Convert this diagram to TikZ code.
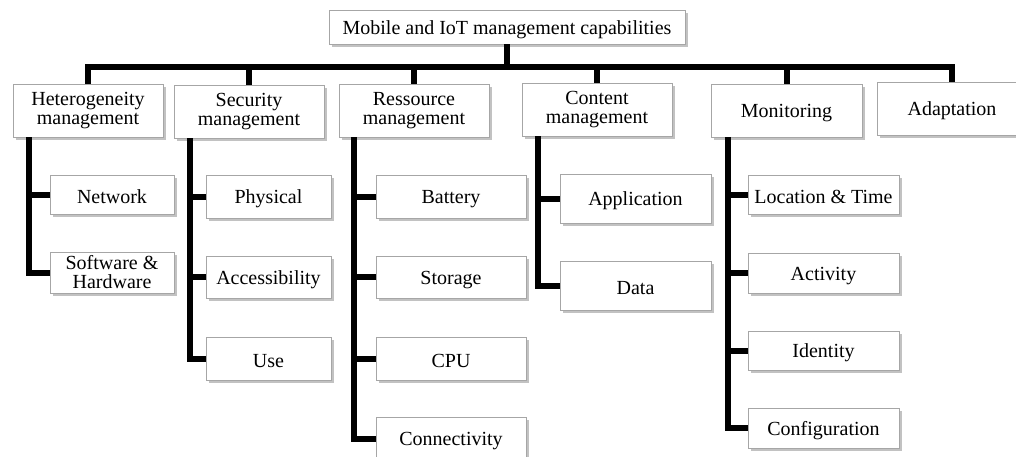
\documentclass[tikz,border=0pt]{standalone}
\usepackage{fontspec}
\setmainfont{Liberation Serif}
\usetikzlibrary{shadows}
\begin{document}
\begin{tikzpicture}[x=1pt,y=-1pt,
  box/.style={draw=black!35, line width=0.8pt, fill=white, inner sep=0pt, align=center,
    font=\fontsize{20}{19}\selectfont, text=black,
    execute at begin node={\rule{0pt}{18.5pt}},
    drop shadow={shadow xshift=2.5pt, shadow yshift=-2.5pt, fill=black!40, opacity=0.6}},
  conn/.style={line width=6pt, draw=black, line join=miter},
  bar/.style={line width=6pt, draw=black, line cap=rect}]
\useasboundingbox (0,0) rectangle (1016,456);
\clip (0,0) rectangle (1016,456);
% root
\node[box, minimum width=356pt, minimum height=34pt] (root) at (507,27) {Mobile and IoT management capabilities};
% level 1
\node[box, minimum width=150pt, minimum height=53pt] (het) at (88,110.5) {Heterogeneity\\management};
\node[box, minimum width=150pt, minimum height=53pt] (sec) at (249,111.5) {Security\\management};
\node[box, minimum width=150pt, minimum height=53pt] (res) at (414,110.5) {Ressource\\management};
\node[box, minimum width=150pt, minimum height=53pt] (con) at (597,109.5) {Content\\management};
\node[box, minimum width=151pt, minimum height=53pt] (mon) at (786.5,110.5) {Monitoring};
\node[box, minimum width=150pt, minimum height=53pt] (ada) at (952,108.5) {Adaptation};
% children
\node[box, minimum width=124pt, minimum height=39pt] (net) at (112,194.5) {Network};
\node[box, minimum width=124pt, minimum height=41pt] (sw) at (112,272.5) {Software \&\\Hardware};
\node[box, minimum width=125pt, minimum height=43pt] (phy) at (268.5,196.5) {Physical};
\node[box, minimum width=125pt, minimum height=42pt] (acc) at (268.5,277) {Accessibility};
\node[box, minimum width=125pt, minimum height=43pt] (use) at (268.5,358.5) {Use};
\node[box, minimum width=150pt, minimum height=43pt] (bat) at (451,196.5) {Battery};
\node[box, minimum width=150pt, minimum height=42pt] (sto) at (451,277) {Storage};
\node[box, minimum width=150pt, minimum height=43pt] (cpu) at (451,358.5) {CPU};
\node[box, minimum width=150pt, minimum height=43pt] (cnx) at (451,438.5) {Connectivity};
\node[box, minimum width=151pt, minimum height=49pt] (app) at (635.5,198.5) {Application};
\node[box, minimum width=151pt, minimum height=49pt] (dat) at (635.5,285.5) {Data};
\node[box, minimum width=151pt, minimum height=39pt] (loc) at (823.5,194.5) {Location \& Time};
\node[box, minimum width=151pt, minimum height=40pt] (act) at (823.5,273) {Activity};
\node[box, minimum width=151pt, minimum height=39pt] (ide) at (823.5,350.5) {Identity};
\node[box, minimum width=151pt, minimum height=40pt] (cfg) at (823.5,428) {Configuration};
% top connectors
\coordinate (barL) at (het.north |- 0,67);
\coordinate (barR) at (ada.north |- 0,67);
\draw[bar] (barL) -- (barR);
\draw[conn] (root.south) -- (root.south |- barL);
\foreach \n in {het,sec,res,con,mon,ada}{
  \draw[conn] (\n.north) -- (\n.north |- barL);
}
% spines
\draw[conn] ([xshift=16pt]het.south west) |- (net.west);
\draw[conn] ([xshift=16pt]het.south west) |- (sw.west);
\foreach \c in {phy,acc,use}{\draw[conn] ([xshift=16pt]sec.south west) |- (\c.west);}
\foreach \c in {bat,sto,cpu,cnx}{\draw[conn] ([xshift=15pt]res.south west) |- (\c.west);}
\foreach \c in {app,dat}{\draw[conn] ([xshift=16pt]con.south west) |- (\c.west);}
\foreach \c in {loc,act,ide,cfg}{\draw[conn] ([xshift=17pt]mon.south west) |- (\c.west);}
\end{tikzpicture}
\end{document}
